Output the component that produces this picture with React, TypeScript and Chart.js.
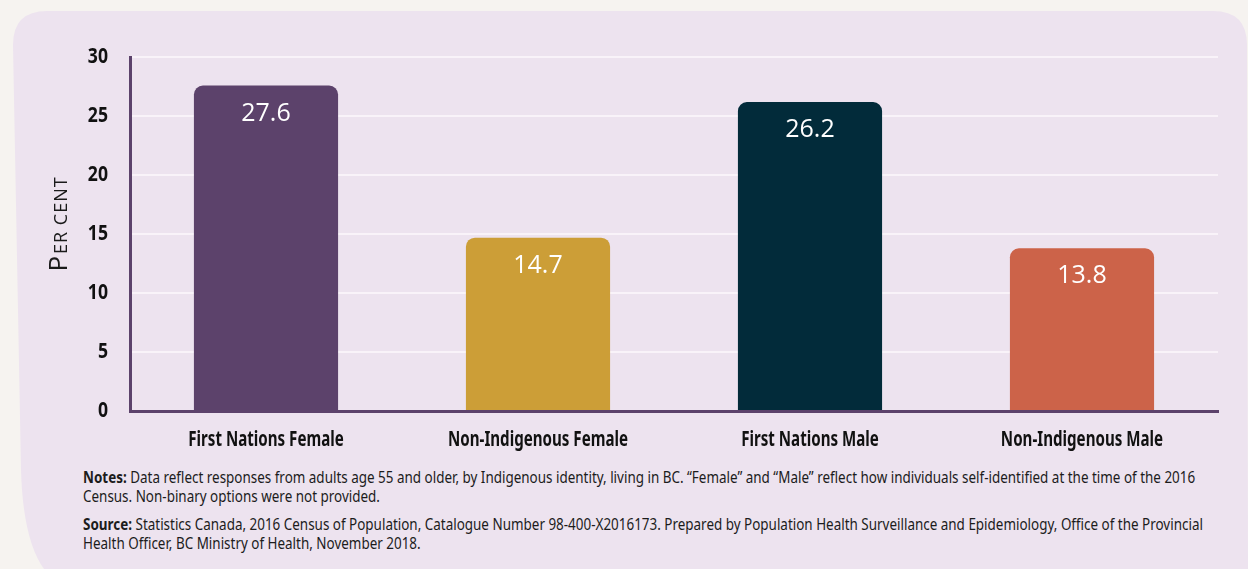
import React, { useEffect, useRef } from "react";
import { Chart, registerables } from "chart.js";

Chart.register(...registerables);

const categories = [
  "First Nations Female",
  "Non-Indigenous Female",
  "First Nations Male",
  "Non-Indigenous Male",
];
const values = [27.6, 14.7, 26.2, 13.8];
const barColors = ["#5c426b", "#cc9e37", "#022b3a", "#cc6349"];
const yTicks = [0, 5, 10, 15, 20, 25, 30];

const labelFont = '"Noto Sans", "DejaVu Sans", sans-serif';

// Horizontally condense the tick labels drawn by a Chart.js scale.
function condenseLabels(scale: any, sx: number) {
  if (scale.__condensed) return;
  scale.__condensed = true;
  const orig = scale.drawLabels.bind(scale);
  scale.drawLabels = (area: any) => {
    const ctx = scale.ctx;
    const origFill = ctx.fillText;
    (ctx as any).fillText = function (t: string, x: number, y: number, mw?: number) {
      this.save();
      this.scale(sx, 1);
      if (mw === undefined) origFill.call(this, t, x / sx, y);
      else origFill.call(this, t, x / sx, y, mw / sx);
      this.restore();
    };
    try {
      orig(area);
    } finally {
      delete (ctx as any).fillText;
    }
  };
}

const condensePlugin = {
  id: "condense",
  beforeDraw(chart: any) {
    condenseLabels(chart.scales.x, 0.72);
    condenseLabels(chart.scales.y, 0.8);
  },
};

const valueLabelPlugin = {
  id: "valueLabels",
  afterDatasetsDraw(chart: any) {
    const ctx = chart.ctx;
    const meta = chart.getDatasetMeta(0);
    ctx.save();
    ctx.fillStyle = "#ffffff";
    ctx.font = '500 25px "Open Sans", sans-serif';
    ctx.textAlign = "center";
    ctx.textBaseline = "middle";
    meta.data.forEach((bar: any, i: number) => {
      ctx.fillText(values[i].toFixed(1), bar.x, bar.y + 28);
    });
    ctx.restore();
  },
};

const yTitlePlugin = {
  id: "yTitle",
  afterDraw(chart: any) {
    const ctx = chart.ctx;
    ctx.save();
    ctx.translate(47, 184);
    ctx.rotate(-Math.PI / 2);
    ctx.fillStyle = "#1a1a1a";
    ctx.textBaseline = "alphabetic";
    const big = '500 26px "Open Sans", sans-serif';
    const small = '500 18px "Open Sans", sans-serif';
    ctx.font = big;
    const wP = ctx.measureText("P").width;
    ctx.font = small;
    (ctx as any).letterSpacing = "1px";
    const wRest = ctx.measureText("ER CENT").width;
    const total = wP + wRest + 2;
    let x = -total / 2;
    ctx.font = big;
    (ctx as any).letterSpacing = "0px";
    ctx.fillText("P", x, 0);
    x += wP + 2;
    ctx.font = small;
    (ctx as any).letterSpacing = "1px";
    ctx.fillText("ER CENT", x, 0);
    ctx.restore();
  },
};

export default function App() {
  const canvasRef = useRef<HTMLCanvasElement | null>(null);

  useEffect(() => {
    if (!canvasRef.current) return;
    const chart = new Chart(canvasRef.current, {
      type: "bar",
      data: {
        labels: categories,
        datasets: [
          {
            data: values,
            backgroundColor: barColors,
            borderRadius: { topLeft: 9, topRight: 9, bottomLeft: 0, bottomRight: 0 },
            borderSkipped: "bottom",
            categoryPercentage: 1,
            barPercentage: 0.53,
          },
        ],
      },
      options: {
        responsive: false,
        animation: false,
        devicePixelRatio: 1,
        layout: { padding: { left: 0, right: 12, top: 0, bottom: 0 } },
        plugins: {
          legend: { display: false },
          tooltip: { enabled: false },
        },
        scales: {
          x: {
            grid: { display: false, drawTicks: false },
            border: { display: true, color: "#5c426b", width: 3 },
            ticks: {
              color: "#111111",
              font: { family: labelFont, size: 21, weight: "bold" },
              padding: 16,
              maxRotation: 0,
              autoSkip: false,
            },
            afterFit: (scale: any) => {
              scale.height = 49;
            },
          },
          y: {
            min: 0,
            max: 30,
            afterBuildTicks: (scale: any) => {
              scale.ticks = yTicks.map((v) => ({ value: v }));
            },
            grid: {
              drawTicks: true,
              tickLength: 18,
              tickColor: "rgba(0,0,0,0)",
              color: (c: any) => (c.tick && c.tick.value === 0 ? "rgba(0,0,0,0)" : "#f9f3f9"),
              lineWidth: 2,
            },
            border: { display: true, color: "#5c426b", width: 3 },
            ticks: {
              color: "#111111",
              font: { family: labelFont, size: 22, weight: "bold" },
              padding: 4,
            },
            afterFit: (scale: any) => {
              scale.width = 110;
            },
          },
        },
      },
      plugins: [condensePlugin, valueLabelPlugin, yTitlePlugin],
    });
    return () => chart.destroy();
  }, []);

  const noteStyle: React.CSSProperties = {
    fontFamily: labelFont,
    fontSize: 16,
    lineHeight: "19px",
    color: "#1c1c1c",
    margin: 0,
    whiteSpace: "nowrap",
  };

  return (
    <div style={{ position: "fixed", inset: 0, background: "#f6f3f0", overflow: "hidden" }}>
      <svg
        width={1248}
        height={569}
        style={{ position: "absolute", left: 0, top: 0 }}
      >
        <path
          d="M 13,45 Q 13,11 47,11 L 1213,11 Q 1247,11 1247,45 L 1248,569 L 44,569 Q 23,540 21,470 Z"
          fill="#ede3ef"
        />
      </svg>
      <canvas
        ref={canvasRef}
        width={1210}
        height={420}
        style={{ position: "absolute", left: 20, top: 40, width: 1210, height: 420 }}
      />
      <div
        style={{
          position: "absolute",
          left: 83,
          top: 468,
          transform: "scaleX(0.84)",
          transformOrigin: "0 0",
        }}
      >
        <p style={noteStyle}>
          <b>Notes:</b> Data reflect responses from adults age 55 and older, by Indigenous identity, living in BC. “Female” and “Male” reflect how individuals self-identified at the time of the 2016
          <br />
          Census. Non-binary options were not provided.
        </p>
        <p style={{ ...noteStyle, marginTop: 9 }}>
          <b>Source:</b> Statistics Canada, 2016 Census of Population, Catalogue Number 98-400-X2016173. Prepared by Population Health Surveillance and Epidemiology, Office of the Provincial
          <br />
          Health Officer, BC Ministry of Health, November 2018.
        </p>
      </div>
    </div>
  );
}
